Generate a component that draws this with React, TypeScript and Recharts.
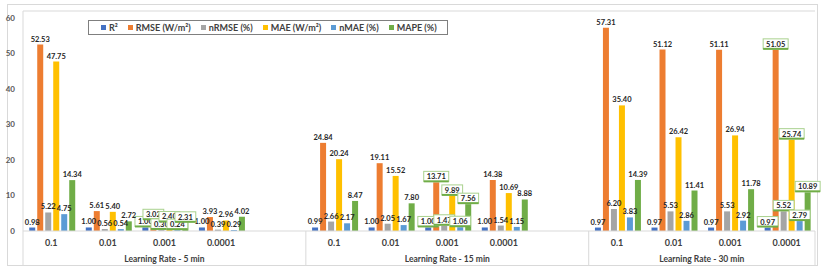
import React from 'react'
import { BarChart, Bar, XAxis, YAxis, Legend, LabelList, ReferenceLine } from 'recharts'

// learning-rate slots, with an empty spacer slot after the first two groups
const rates = ['0.1', '0.01', '0.001', '0.0001', '', '0.1', '0.01', '0.001', '0.0001', '', '0.1', '0.01', '0.001', '0.0001']
const groupNames = ['Learning Rate - 5 min', 'Learning Rate - 15 min', 'Learning Rate - 30 min']
const groupStarts = [0, 5, 10]
const groupSizes = [5, 5, 4]
// slots whose labels are highlighted with green callouts
const best = [false, false, true, false, false, false, false, true, false, false, false, false, false, true]

const r2 = [0.98, 1.0, 1.0, 1.0, null, 0.99, 1.0, 1.0, 1.0, null, 0.97, 0.97, 0.97, 0.97]
const rmse = [52.53, 5.61, 3.02, 3.93, null, 24.84, 19.11, 13.71, 14.38, null, 57.31, 51.12, 51.11, 51.05]
const nrmse = [5.22, 0.56, 0.3, 0.39, null, 2.66, 2.05, 1.47, 1.54, null, 6.2, 5.53, 5.53, 5.52]
const mae = [47.75, 5.4, 2.4, 2.96, null, 20.24, 15.52, 9.89, 10.69, null, 35.4, 26.42, 26.94, 25.74]
const nmae = [4.75, 0.54, 0.24, 0.29, null, 2.17, 1.67, 1.06, 1.15, null, 3.83, 2.86, 2.92, 2.79]
const mape = [14.34, 2.72, 2.31, 4.02, null, 8.47, 7.8, 7.56, 8.88, null, 14.39, 11.41, 11.78, 10.89]

const yTicks = [0, 10, 20, 30, 40, 50, 60]

const seriesKeys = ['r2', 'rmse', 'nrmse', 'mae', 'nmae', 'mape']
const seriesNames = ['R²', 'RMSE (W/m²)', 'nRMSE (%)', 'MAE (W/m²)', 'nMAE (%)', 'MAPE (%)']
const seriesColors = ['#4472C4', '#ED7D31', '#A5A5A5', '#FFC000', '#5B9BD5', '#70AD47']
const seriesValues = [r2, rmse, nrmse, mae, nmae, mape]

const data = rates.map((rate, i) => {
  const row: any = { rate, best: best[i] }
  seriesKeys.forEach((k, s) => { row[k] = seriesValues[s][i] })
  return row
})

const FONT = 'Lato, "Open Sans", sans-serif'
const GRID = '#D9D9D9'

const RateTick = (props: any) => {
  const { x, y, payload, index } = props
  const half = payload && payload.offset != null ? payload.offset : 28.3
  const gi = groupStarts.indexOf(index)
  return (
    <g>
      <text x={x} y={y + 15} textAnchor="middle" fontSize={9} fontWeight={700} fill="#404040" fontFamily={FONT}>
        {payload.value}
      </text>
      {gi >= 0 && (
        <>
          <line x1={x - half} x2={x - half} y1={y} y2={y + 34} stroke={GRID} />
          <text
            x={x - half + groupSizes[gi] * half}
            y={y + 31}
            textAnchor="middle"
            fontSize={8.5}
            fontWeight={700}
            fill="#404040"
            fontFamily={FONT}
          >
            {groupNames[gi]}
          </text>
        </>
      )}
      {index === rates.length - 1 && <line x1={x + half} x2={x + half} y1={y} y2={y + 34} stroke={GRID} />}
    </g>
  )
}

const ValueLabel = (props: any) => {
  const { x, y, width, value } = props
  if (value == null || value.v == null) return null
  const cx = x + width / 2
  const ty = y - 3
  const txt = Number(value.v).toFixed(2)
  const w = txt.length * 4.2 + 4
  return (
    <g>
      {value.best && (
        <>
          <rect x={cx - w / 2} y={ty - 8} width={w} height={10} fill="#fff" stroke="#A9D18E" strokeWidth={1} />
          <line x1={cx - w / 2} x2={cx + w / 2} y1={ty + 2} y2={ty + 2} stroke="#70AD47" strokeWidth={2} />
        </>
      )}
      <text x={cx} y={ty} textAnchor="middle" fontSize={7.5} fontWeight={700} fill="#262626" fontFamily={FONT}>
        {txt}
      </text>
    </g>
  )
}

const LegendBox = () => (
  <div
    style={{
      display: 'flex',
      alignItems: 'center',
      gap: 10,
      padding: '2px 10px 2px 12px',
      height: 15,
      boxSizing: 'border-box',
      border: '1px solid #7F7F7F',
      background: '#fff',
      fontFamily: FONT,
      fontSize: 9,
      fontWeight: 700,
      color: '#404040',
      whiteSpace: 'nowrap',
      lineHeight: '10px',
    }}
  >
    {seriesNames.map((name, i) => (
      <span key={name} style={{ display: 'flex', alignItems: 'center', gap: 3 }}>
        <span style={{ width: 5, height: 5, background: seriesColors[i], display: 'inline-block' }} />
        {name}
      </span>
    ))}
  </div>
)

export default function App() {
  return (
    <div style={{ position: 'absolute', left: 0, top: 0, width: 825, height: 271, background: '#fff' }}>
      <div
        style={{
          position: 'absolute',
          left: 7,
          top: 4,
          width: 811,
          height: 262,
          border: `1px solid ${GRID}`,
          boxSizing: 'border-box',
        }}
      />
      <BarChart
        width={825}
        height={271}
        data={data}
        margin={{ top: 11, right: 10, left: 8, bottom: 0 }}
        barCategoryGap="11%"
        barGap={2}
        style={{ position: 'absolute', left: 0, top: 0 }}
      >
        <XAxis
          dataKey="rate"
          height={40}
          interval={0}
          tickLine={false}
          tickSize={0}
          tickMargin={0}
          axisLine={{ stroke: GRID }}
          tick={<RateTick />}
        />
        <YAxis
          domain={[0, 62]}
          ticks={yTicks}
          width={15}
          tickLine={false}
          tickSize={0}
          tickMargin={8}
          axisLine={{ stroke: GRID }}
          tick={{ fontSize: 8, fontWeight: 700, fill: '#595959', fontFamily: FONT }}
        />
        <YAxis yAxisId="frame" orientation="right" width={0} tick={false} tickLine={false} axisLine={{ stroke: GRID }} />
        <ReferenceLine y={62} stroke={GRID} />
        <Legend
          layout="vertical"
          align="center"
          verticalAlign="middle"
          content={<LegendBox />}
          wrapperStyle={{ position: 'absolute', left: 88, top: 20, width: 'auto' }}
        />
        {seriesKeys.map((k, i) => (
          <Bar key={k} dataKey={k} name={seriesNames[i]} fill={seriesColors[i]} isAnimationActive={false}>
            <LabelList
              dataKey={(row: any) => (row[k] == null ? null : { v: row[k], best: row.best })}
              content={<ValueLabel />}
            />
          </Bar>
        ))}
      </BarChart>
    </div>
  )
}
